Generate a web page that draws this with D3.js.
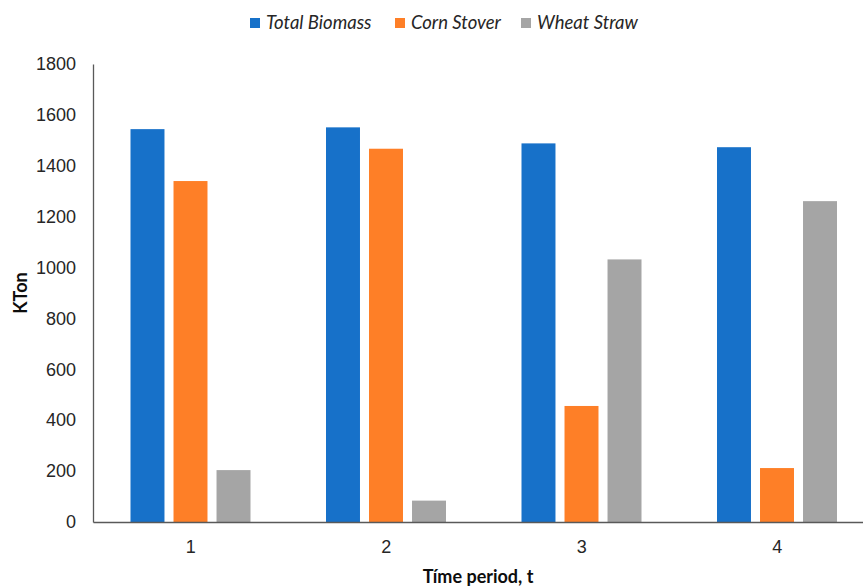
<!DOCTYPE html>
<html>
<head>
<meta charset="utf-8">
<script src="https://cdn.jsdelivr.net/npm/d3@7"></script>
<style>
  html, body { margin: 0; padding: 0; background: #fff; }
  svg { display: block; font-family: Lato, "Open Sans", sans-serif; }
</style>
</head>
<body>
<svg id="chart" width="863" height="586"></svg>
<script>
// Time periods on the x axis
const periods = ["1", "2", "3", "4"];
// Series names, in legend order
const seriesNames = ["Total Biomass", "Corn Stover", "Wheat Straw"];
// Biomass supplied per period (KTon)
const totalBiomass = [1544, 1551, 1488, 1473];
const cornStover   = [1340, 1467, 456, 212];
const wheatStraw   = [204, 84, 1032, 1261];
// Y axis ticks
const yTicks = [0, 200, 400, 600, 800, 1000, 1200, 1400, 1600, 1800];

const seriesValues = [totalBiomass, cornStover, wheatStraw];
const colors = ["#1771c9", "#fe7f27", "#a5a5a5"];

const svg = d3.select("#chart");
const margin = { left: 93, top: 64, bottom: 522 };
const step = 195.5;
const plotRight = margin.left + step * periods.length;

const x0 = d3.scaleBand().domain(periods).range([margin.left, plotRight]).padding(0);
const x1 = d3.scaleBand().domain(seriesNames).range([37.5, 157.5]).paddingInner(0.21).paddingOuter(0);
const y = d3.scaleLinear().domain([0, 1800]).range([margin.bottom, margin.top]);

// Bars
const groups = svg.append("g").selectAll("g")
  .data(periods)
  .join("g")
  .attr("transform", d => `translate(${x0(d)},0)`);

groups.selectAll("rect")
  .data((d, i) => seriesNames.map((s, k) => ({ s, v: seriesValues[k][i], c: colors[k] })))
  .join("rect")
  .attr("x", d => x1(d.s))
  .attr("width", x1.bandwidth())
  .attr("y", d => y(d.v))
  .attr("height", d => y(0) - y(d.v))
  .attr("fill", d => d.c);

// Y axis
const yAxis = svg.append("g")
  .attr("transform", `translate(${margin.left},0)`)
  .call(d3.axisLeft(y).tickValues(yTicks).tickSize(0).tickPadding(17).tickFormat(d3.format("d")));
yAxis.select(".domain").attr("stroke", "#595959").attr("stroke-width", 1.3);
yAxis.selectAll("text").attr("font-size", "18px").attr("fill", "#262626");

// X axis
const xAxis = svg.append("g")
  .attr("transform", `translate(0,${margin.bottom})`)
  .call(d3.axisBottom(x0).tickSize(0).tickPadding(18));
xAxis.select(".domain").attr("stroke", "#595959").attr("stroke-width", 1.3);
xAxis.selectAll("text").attr("font-size", "18px").attr("fill", "#262626");

// Axis titles
svg.append("text")
  .attr("transform", `translate(27,${(margin.top + margin.bottom) / 2}) rotate(-90)`)
  .attr("text-anchor", "middle")
  .attr("font-size", "18px")
  .attr("font-weight", "bold")
  .attr("fill", "#0d0d0d")
  .text("KTon");

svg.append("text")
  .attr("x", 478)
  .attr("y", 583)
  .attr("text-anchor", "middle")
  .attr("font-size", "18px")
  .attr("font-weight", "bold")
  .attr("fill", "#0d0d0d")
  .text("Tíme period, t");

// Legend
const legendX = [250, 395, 521];
const legend = svg.append("g").selectAll("g")
  .data(seriesNames)
  .join("g")
  .attr("transform", (d, i) => `translate(${legendX[i]},18)`);
legend.append("rect")
  .attr("width", 10).attr("height", 10)
  .attr("fill", (d, i) => colors[i]);
legend.append("text")
  .attr("x", 16).attr("y", 11)
  .attr("font-size", "18.5px")
  .attr("font-style", "italic")
  .attr("fill", "#262626")
  .text(d => d);
</script>
</body>
</html>
